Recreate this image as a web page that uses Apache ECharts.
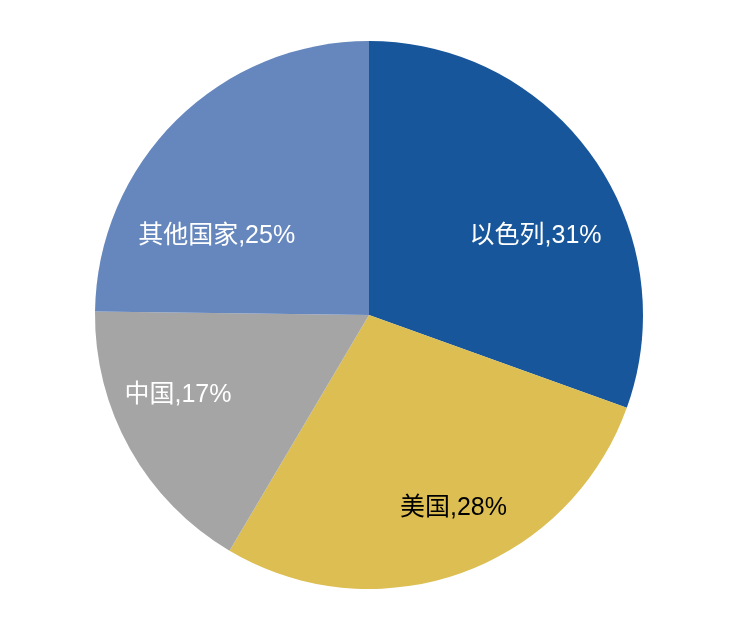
<!DOCTYPE html>
<html>
<head>
<meta charset="utf-8">
<script src="https://cdn.jsdelivr.net/npm/echarts@6/dist/echarts.min.js"></script>
<style>
html,body{margin:0;padding:0;background:#fff;}
#c{width:730px;height:620px;}
</style>
</head>
<body>
<div id="c"></div>
<script>
var categories = ['以色列', '美国', '中国', '其他国家'];
var shares = [30.5, 28.0, 16.7, 24.8];
var shareLabels = [31, 28, 17, 25];
var colors = ['#17569A', '#DCBE52', '#A5A5A5', '#6687BE'];
var labelColors = ['#ffffff', '#000000', '#ffffff', '#ffffff'];
var labelOffsets = [[52, 2], [37, 61], [-69, 12], [-54, 21]];

var chart = echarts.init(document.getElementById('c'));
var data = categories.map(function (name, i) {
  return {
    name: name,
    value: shares[i],
    itemStyle: { color: colors[i] },
    label: { color: labelColors[i], offset: labelOffsets[i] }
  };
});
chart.setOption({
  animation: false,
  series: [{
    type: 'pie',
    center: [369, 315],
    radius: [0, 274],
    startAngle: 90,
    clockwise: true,
    data: data,
    itemStyle: { borderWidth: 0 },
    emphasis: { disabled: true },
    label: {
      show: true,
      position: 'inside',
      fontSize: 25,
      fontFamily: '"Liberation Sans", "Noto Sans CJK SC", sans-serif',
      formatter: function (p) { return p.name + ',' + shareLabels[p.dataIndex] + '%'; }
    },
    labelLine: { show: false }
  }]
});
</script>
</body>
</html>
